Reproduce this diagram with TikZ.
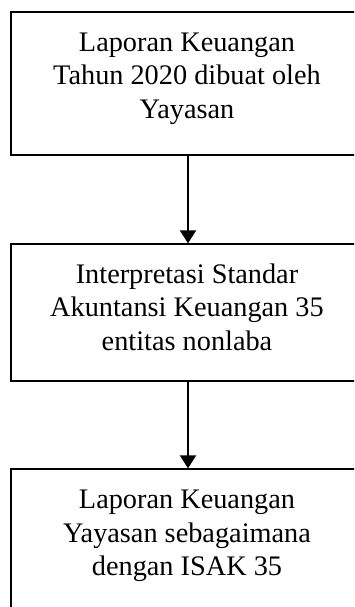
\documentclass[tikz,border=0pt]{standalone}
\usepackage{fontspec}
\setmainfont{Liberation Serif}
\usetikzlibrary{arrows.meta}
\begin{document}
\begin{tikzpicture}[x=1pt,y=-1pt,
  boxstyle/.style={draw=black,line width=1.3pt,rectangle,minimum width=354pt,inner sep=0pt},
  linetext/.style={anchor=base,inner sep=0pt,font=\fontsize{28.3}{34}\selectfont},
  flowarrow/.style={line width=2pt,-{Triangle[width=16pt,length=13pt]}}]
\useasboundingbox (0,0) rectangle (354,607);
\clip (0,0) rectangle (354,607);
\fill[white] (0,0) rectangle (354,607);
\node[boxstyle,minimum height=143pt] (b1) at (188,83.5) {};
\node[boxstyle,minimum height=137pt] (b2) at (188,312.5) {};
\node[boxstyle,minimum height=151pt] (b3) at (188,544.5) {};
\node[linetext] (t1a) at (187,52) {Laporan Keuangan};
\node[linetext] (t1b) at (187,85) {Tahun 2020 dibuat oleh};
\node[linetext] (t1c) at (187,118) {Yayasan};
\node[linetext] (t2a) at (187,283) {Interpretasi Standar};
\node[linetext] (t2b) at (187,316) {Akuntansi Keuangan 35};
\node[linetext] (t2c) at (187,350) {entitas nonlaba};
\node[linetext] (t3a) at (187,508) {Laporan Keuangan};
\node[linetext] (t3b) at (187,542) {Yayasan sebagaimana};
\node[linetext] (t3c) at (187,575) {dengan ISAK 35};
\draw[flowarrow] (b1.south) -- (b2.north);
\draw[flowarrow] (b2.south) -- (b3.north);
\end{tikzpicture}
\end{document}
